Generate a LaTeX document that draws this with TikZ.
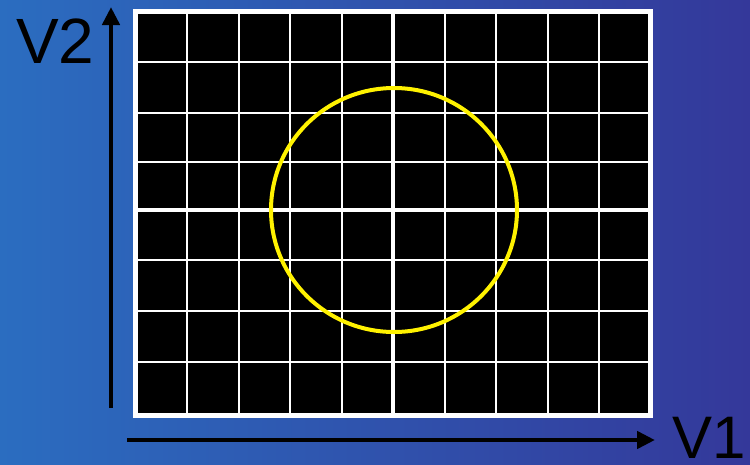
\documentclass[tikz,border=0pt]{standalone}
\usepackage{fontspec}
\setmainfont{Liberation Sans}
\usetikzlibrary{arrows.meta}
\definecolor{bgleft}{HTML}{2B6DC0}
\definecolor{bgright}{HTML}{34389A}
\definecolor{trace}{HTML}{FFF200}
\tikzset{
  gridline/.style={white, line width=2},
  centerline/.style={white, line width=4},
  frame/.style={draw=white, line width=5, fill=black},
  axis/.style={black, line width=4.5, -{Triangle[length=18,width=17]}},
  lbl/.style={inner sep=0, font=\fontsize{64}{64}\selectfont, text=black},
}
\begin{document}
\begin{tikzpicture}[x=1pt,y=-1pt]
  \shade[left color=bgleft, right color=bgright] (0,0) rectangle (750,464);
  \useasboundingbox (0,0) rectangle (750,464);
  % screen
  \draw[frame] (135.5,11.5) rectangle (650.5,415.5);
  \foreach \i in {1,2,3,4,6,7,8,9} {
    \draw[gridline] ({135.5+51.5*\i},14) -- ({135.5+51.5*\i},413);
  }
  \foreach \y in {62,113,162,260,311,362} {
    \draw[gridline] (138,\y) -- (648,\y);
  }
  \draw[centerline] (393,14) -- (393,413);
  \draw[centerline] (138,210) -- (648,210);
  % trace
  \draw[trace, line width=4] (394,210) ellipse [x radius=123, y radius=122];
  % axes
  \coordinate (ybot) at (111,408);
  \coordinate (ytop) at (111,7);
  \coordinate (xl) at (127,440);
  \coordinate (xr) at (655,440);
  \draw[axis] (ybot) -- (ytop);
  \draw[axis] (xl) -- (xr);
  \node[lbl, anchor=base west] (v2) at (16,63) {V2};
  \node[lbl, anchor=base west, font=\fontsize{60}{60}\selectfont] (v1) at (672,458) {V1};
\end{tikzpicture}
\end{document}
